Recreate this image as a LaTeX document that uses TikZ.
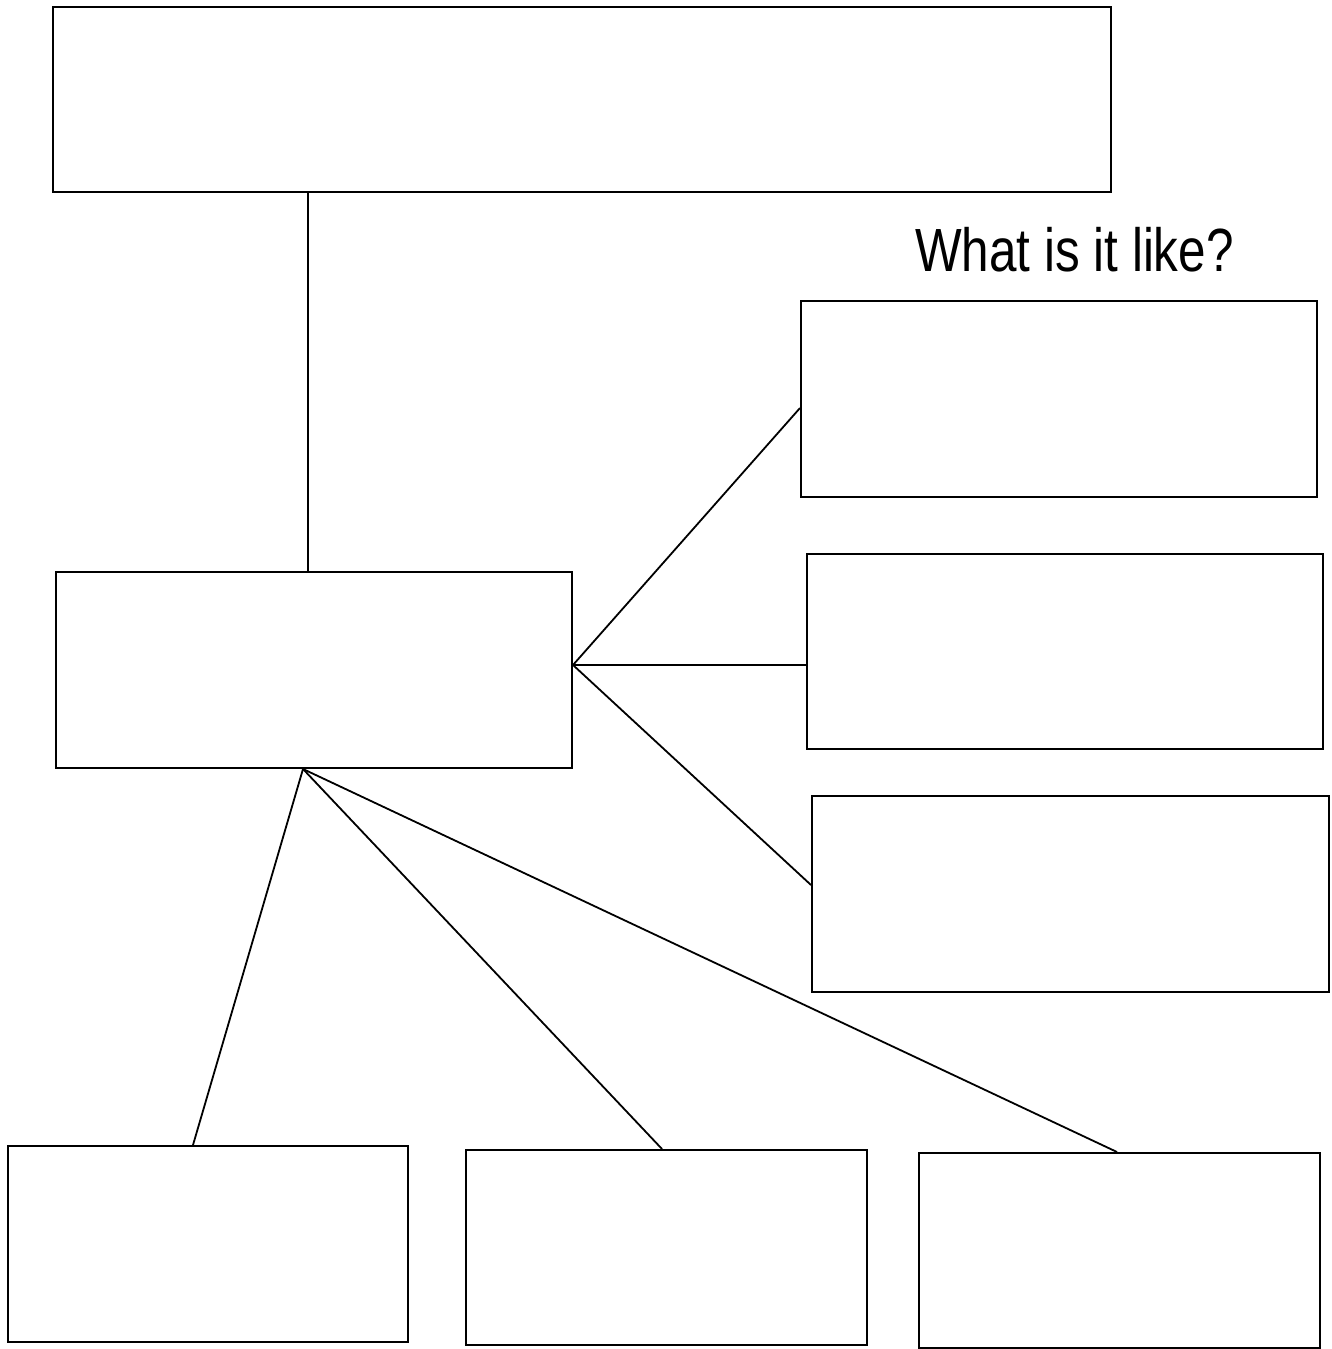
\documentclass[tikz,border=0pt]{standalone}
\usepackage{fontspec}
\setmainfont{Liberation Sans}
\usetikzlibrary{calc}
\begin{document}
\begin{tikzpicture}[x=1pt,y=-1pt,
  box/.style={draw=black,line width=2pt,rectangle,inner sep=0pt},
  link/.style={draw=black,line width=1.8pt}]
\useasboundingbox[fill=white] (0,0) rectangle (1332,1349);
% boxes (center, size)
\node[box,minimum width=1058pt,minimum height=185pt] (top) at (582,99.5) {};
\node[box,minimum width=516pt,minimum height=196pt] (mid) at (314,670) {};
\node[box,minimum width=516pt,minimum height=196pt] (r1) at (1059,399) {};
\node[box,minimum width=516pt,minimum height=195pt] (r2) at (1065,651.5) {};
\node[box,minimum width=517pt,minimum height=196pt] (r3) at (1070.5,894) {};
\node[box,minimum width=400pt,minimum height=196pt] (b1) at (208,1244) {};
\node[box,minimum width=401pt,minimum height=195pt] (b2) at (666.5,1247.5) {};
\node[box,minimum width=401pt,minimum height=195pt] (b3) at (1119.5,1250.5) {};
% label
\node[anchor=base west,inner sep=0pt,xscale=0.81] (q) at (915,271)
  {\fontsize{61pt}{61pt}\selectfont What is it like?};
% connectors
\draw[link] ([xshift=-274pt]top.south) -- ([xshift=-6pt]mid.north);
\draw[link] ([yshift=5pt]mid.east) -- ([yshift=-9pt]r1.west);
\draw[link] ([yshift=5pt]mid.east) -- ([yshift=-13.5pt]r2.west);
\draw[link] ([yshift=5pt]mid.east) -- ([yshift=9pt]r3.west);
\draw[link] ([xshift=-11pt]mid.south) -- ([xshift=-15pt]b1.north);
\draw[link] ([xshift=-11pt]mid.south) -- ([xshift=-4.5pt]b2.north);
\draw[link] ([xshift=-11pt]mid.south) -- ([xshift=-2.5pt]b3.north);
\end{tikzpicture}
\end{document}
